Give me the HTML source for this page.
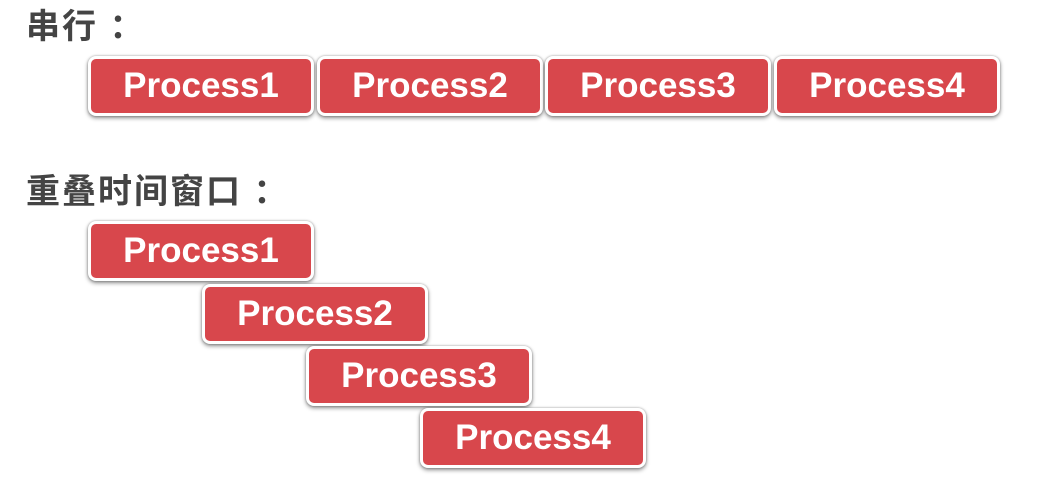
<!DOCTYPE html>
<html><head><meta charset="utf-8"><style>
body{margin:0;width:1037px;height:484px;background:#fff;position:relative;overflow:hidden;font-family:"Liberation Sans","Noto Sans CJK SC",sans-serif}
.h{position:absolute;left:26px;font-size:34px;font-weight:bold;color:#444;line-height:38px;letter-spacing:2px}
.b{position:absolute;width:220px;height:54px;background:#d8474c;border:3px solid #fff;border-radius:8px;box-shadow:0 2px 4px rgba(0,0,0,.45),0 0 2px rgba(0,0,0,.3);color:#fff;font-weight:bold;font-size:35px;line-height:54px;text-align:center;box-sizing:content-box}
</style></head><body>
<div class="h" style="top:8px">串行 ：</div>
<div class="b" style="left:88px;top:56px">Process1</div>
<div class="b" style="left:317px;top:56px">Process2</div>
<div class="b" style="left:545px;top:56px">Process3</div>
<div class="b" style="left:774px;top:56px">Process4</div>
<div class="h" style="top:173px">重叠时间窗口 ：</div>
<div class="b" style="left:88px;top:221px">Process1</div>
<div class="b" style="left:202px;top:284px">Process2</div>
<div class="b" style="left:306px;top:346px">Process3</div>
<div class="b" style="left:420px;top:408px">Process4</div>
</body></html>
